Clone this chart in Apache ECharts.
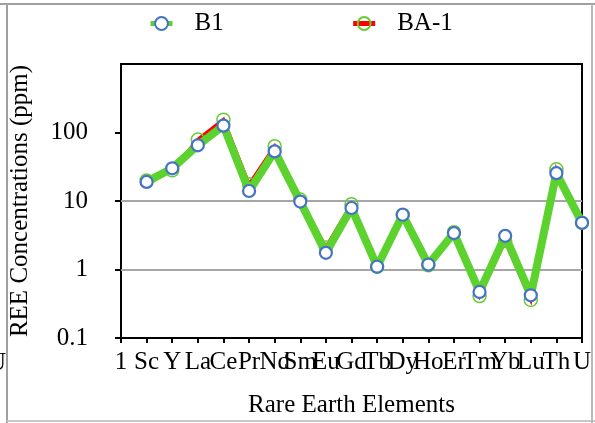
<!DOCTYPE html>
<html>
<head>
<meta charset="utf-8">
<script src="https://cdn.jsdelivr.net/npm/echarts@6/dist/echarts.min.js"></script>
<style>
  html, body { margin: 0; padding: 0; background: #fff; }
  #chart { width: 595px; height: 423px; }
</style>
</head>
<body>
<div id="chart"></div>
<script>
// Element categories along the x axis (first slot is an empty lead-in)
var elements = ['1', 'Sc', 'Y', 'La', 'Ce', 'Pr', 'Nd', 'Sm', 'Eu', 'Gd', 'Tb', 'Dy', 'Ho', 'Er', 'Tm', 'Yb', 'Lu', 'Th', 'U'];

// Concentrations in ppm for each sample
var b1 = [null, 19, 30, 65, 126, 14, 53, 9.8, 1.75, 7.9, 1.1, 6.3, 1.18, 3.4, 0.47, 3.1, 0.42, 25.5, 4.8];
var ba1 = [null, 20, 28, 79, 154, 17.5, 63, 10.5, 2.1, 9, 1.1, 6.3, 1.15, 3.5, 0.41, 2.6, 0.36, 29, 4.8];

// Reference levels drawn as horizontal rules
var ruleLevels = [1, 10];
// Labelled decades on the log axis
var yTicks = [0.1, 1, 10, 100];

var FONT = "'Liberation Serif', 'Times New Roman', serif";
var FS = 25;
var GREEN = '#5bd22e';
var BLUE = '#4472c4';
var RED = '#ff0000';
var LIGHT_GREEN = '#66cc33';

var chart = echarts.init(document.getElementById('chart'), null, { renderer: 'canvas' });

chart.setOption({
  animation: false,
  backgroundColor: '#fff',
  grid: {
    left: 120, right: 13, top: 64, bottom: 83,
    show: true, borderColor: '#000', borderWidth: 2, backgroundColor: 'transparent'
  },
  legend: {
    data: [
      { name: 'B1', lineStyle: { width: 5 } },
      { name: 'BA-1', lineStyle: { width: 5 } }
    ],
    left: 143, top: 6,
    itemWidth: 22, itemHeight: 16, itemGap: 127,
    textStyle: { fontFamily: FONT, fontSize: FS, color: '#000', padding: [0, 0, 0, 17] }
  },
  xAxis: {
    type: 'category',
    data: elements,
    boundaryGap: false,
    name: 'Rare Earth Elements',
    nameLocation: 'middle',
    nameGap: 55,
    nameTextStyle: { fontFamily: FONT, fontSize: FS, color: '#000' },
    axisLine: { lineStyle: { color: '#000', width: 2 } },
    axisTick: { show: true, inside: false, length: 5, alignWithLabel: true, interval: 0, lineStyle: { color: '#000', width: 2 } },
    axisLabel: { interval: 0, hideOverlap: false, margin: 12, fontFamily: FONT, fontSize: FS, color: '#000' },
    splitLine: { show: false }
  },
  yAxis: {
    type: 'log',
    logBase: 10,
    min: 0.1,
    max: 1000,
    name: 'REE Concentrations (ppm)',
    nameLocation: 'middle',
    nameGap: 88,
    nameTextStyle: { fontFamily: FONT, fontSize: FS, color: '#000' },
    axisLine: { show: true, lineStyle: { color: '#000', width: 2 } },
    axisTick: { show: true, inside: false, length: 6, customValues: yTicks, lineStyle: { color: '#000', width: 2 } },
    axisLabel: {
      margin: 33, fontFamily: FONT, fontSize: FS, color: '#000',
      customValues: yTicks,
      formatter: function (v) { return v >= 1000 ? '' : String(+v.toPrecision(3)); }
    },
    splitLine: { show: false }
  },
  graphic: [
    // outer frame
    { type: 'line', shape: { x1: 0, y1: 4, x2: 595, y2: 4 }, style: { stroke: '#a0a0a0', lineWidth: 2 }, z: 0, silent: true },
    { type: 'line', shape: { x1: 7, y1: 4, x2: 7, y2: 423 }, style: { stroke: '#a0a0a0', lineWidth: 2 }, z: 0, silent: true },
    { type: 'line', shape: { x1: 7, y1: 421, x2: 595, y2: 421 }, style: { stroke: '#c8c8c8', lineWidth: 2 }, z: 0, silent: true },
    { type: 'line', shape: { x1: 592, y1: 4, x2: 592, y2: 423 }, style: { stroke: '#b8b8b8', lineWidth: 2 }, z: 0, silent: true },
    // clipped neighbouring label on the left edge
    { type: 'text', left: -12, top: 351, style: { text: 'U', font: FS + 'px ' + FONT, fill: '#000' }, silent: true }
  ],
  series: [
    {
      name: 'BA-1',
      type: 'line',
      data: ba1,
      z: 3,
      symbol: 'circle',
      symbolSize: 13,
      showSymbol: true,
      lineStyle: { color: RED, width: 3.5, join: 'miter' },
      itemStyle: { color: 'rgba(255,255,255,0)', borderColor: LIGHT_GREEN, borderWidth: 1.5 },
      connectNulls: false
    },
    {
      name: 'B1',
      type: 'line',
      data: b1,
      z: 4,
      symbol: 'circle',
      symbolSize: 12,
      showSymbol: true,
      lineStyle: { color: GREEN, width: 8 },
      itemStyle: { color: '#fff', borderColor: BLUE, borderWidth: 2.2 },
      markLine: {
        silent: true,
        symbol: 'none',
        z: 1,
        label: { show: false },
        lineStyle: { color: '#a6a6a6', width: 2, type: 'solid' },
        data: ruleLevels.map(function (v) { return { yAxis: v }; })
      }
    }
  ]
});
</script>
</body>
</html>
